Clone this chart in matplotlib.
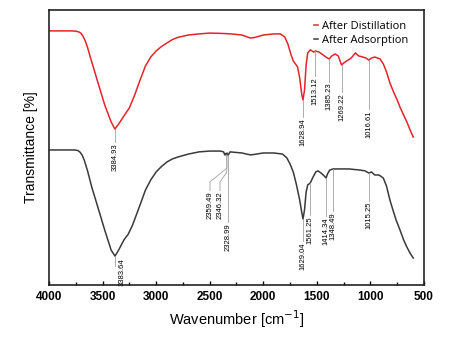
import matplotlib.pyplot as plt
import numpy as np
from matplotlib.ticker import MultipleLocator, NullLocator

# spectrum after distillation (red)
wn_dist = [4000, 3800, 3750, 3720, 3700, 3680, 3660, 3640, 3620, 3550, 3480, 3420, 3385,
           3350, 3300, 3250, 3200, 3150, 3100, 3050, 3000, 2950, 2900, 2850, 2800, 2700,
           2600, 2500, 2400, 2300, 2200, 2120, 2080, 2000, 1900, 1840, 1800, 1770, 1740,
           1720, 1700, 1680, 1660, 1640, 1629, 1615, 1600, 1585, 1560, 1530, 1513, 1480,
           1440, 1400, 1385, 1360, 1330, 1300, 1280, 1269, 1250, 1220, 1180, 1140, 1110,
           1070, 1040, 1017, 990, 960, 910, 880, 850, 818, 780, 750, 724, 690, 660, 630, 600]
t_dist = [92.4, 92.4, 92.3, 92.0, 91.5, 90.3, 88.6, 86.4, 83.6, 74.5, 65.5, 59.3, 56.7,
          58.5, 61.5, 64.4, 69.1, 74.5, 79.6, 82.9, 85.1, 86.7, 88.0, 89.2, 90.0, 90.9,
          91.3, 91.6, 91.5, 91.3, 90.9, 89.8, 90.0, 90.9, 91.3, 91.3, 90.2, 87.6, 83.6,
          81.5, 80.4, 79.3, 75.3, 69.1, 67.3, 70.9, 80.0, 84.4, 85.5, 84.7, 85.1, 84.7,
          83.6, 82.5, 82.2, 83.3, 84.0, 83.3, 81.1, 80.0, 80.7, 81.5, 82.5, 84.4, 83.3,
          82.9, 82.5, 81.8, 82.5, 82.9, 82.2, 80.4, 77.5, 73.5, 69.8, 67.3, 64.7, 61.8,
          59.3, 56.4, 53.8]

# spectrum after adsorption (black)
wn_ads = [4000, 3760, 3730, 3710, 3690, 3670, 3640, 3600, 3550, 3480, 3420, 3384, 3350,
          3300, 3260, 3220, 3150, 3100, 3050, 3000, 2950, 2900, 2850, 2800, 2700, 2600,
          2500, 2400, 2370, 2359, 2350, 2346, 2338, 2329, 2310, 2200, 2120, 2080, 2000,
          1900, 1820, 1780, 1750, 1720, 1690, 1660, 1640, 1629, 1615, 1600, 1585, 1561,
          1540, 1510, 1490, 1460, 1430, 1414, 1400, 1380, 1348, 1300, 1200, 1100, 1050,
          1015, 990, 960, 920, 880, 850, 818, 790, 760, 724, 690, 660, 630, 600]
t_ads = [49.1, 49.1, 48.9, 48.3, 47.2, 45.3, 41.5, 35.5, 29.1, 20.0, 12.7, 10.5, 12.7,
         16.4, 18.5, 21.8, 29.1, 34.5, 38.2, 41.1, 43.1, 44.7, 45.8, 46.5, 47.6, 48.4,
         48.7, 48.7, 48.4, 47.3, 47.8, 47.3, 48.0, 47.1, 48.4, 48.0, 47.3, 47.5, 48.0,
         48.0, 47.6, 46.2, 44.0, 41.1, 36.4, 30.9, 26.2, 24.0, 27.3, 33.8, 36.4, 37.1,
         38.9, 41.1, 41.5, 40.7, 39.6, 38.9, 40.4, 41.8, 42.2, 42.2, 42.2, 41.8, 41.5,
         40.7, 41.1, 40.0, 40.0, 38.9, 36.0, 30.9, 27.3, 23.6, 20.0, 16.4, 13.8, 11.6, 9.8]

# peak labels
peaks_dist = [3384.93, 1628.94, 1513.12, 1385.23, 1269.22, 1016.61]
peaks_ads = [3383.64, 2359.49, 2346.32, 2328.99, 1629.04, 1561.25, 1414.34, 1348.49, 1015.25]

# where each label text starts (top of the rotated text), axis units
text_top_dist = [51.6, 60.7, 75.6, 73.5, 69.8, 63.6]
text_top_ads = [9.8, 34.0, 34.0, 22.5, 15.6, 25.1, 24.7, 26.5, 30.2]
text_x_ads = [3313, 2497, 2404, 2329, 1629.04, 1561.25, 1414.34, 1348.49, 1015.25]

xticks = [4000, 3500, 3000, 2500, 2000, 1500, 1000, 500]

red = '#e5232b'
black = '#3a3a3a'
lead = '#a0a0a0'

plt.rcParams['font.family'] = ['Liberation Sans', 'DejaVu Sans']

fig = plt.figure(figsize=(4.51, 3.42), dpi=100)
ax = fig.add_axes([0.1086, 0.1667, 0.8315, 0.8041])

ax.plot(wn_dist, t_dist, color=red, lw=1.1, label='After Distillation')
ax.plot(wn_ads, t_ads, color=black, lw=1.1, label='After Adsorption')

for p, top in zip(peaks_dist, text_top_dist):
    yc = np.interp(p, wn_dist[::-1], t_dist[::-1])
    ax.plot([p, p], [yc, top + 0.3], color=lead, lw=0.6)
    ax.text(p, top, f'{p:.2f}', rotation=90, ha='center', va='top', fontsize=5.5)

for i, (p, top, xt) in enumerate(zip(peaks_ads, text_top_ads, text_x_ads)):
    yc = np.interp(p, wn_ads[::-1], t_ads[::-1])
    if i in (1, 2):
        # fanned leader lines for the CO2 doublet
        kink = 42.5 if i == 1 else 41.0
        ax.plot([2340, 2340, xt, xt], [yc, kink, 37.5, top + 0.3], color=lead, lw=0.6)
    elif i == 0:
        ax.plot([p, p], [yc, 7.0], color=lead, lw=0.6)
    else:
        ax.plot([p, p], [yc, top + 0.3], color=lead, lw=0.6)
    ax.text(xt, top, f'{p:.2f}', rotation=90, ha='center', va='top', fontsize=5.5)

ax.set_xlim(4000, 500)
ax.set_ylim(0, 100)
ax.set_xticks(xticks)
ax.set_xticklabels([str(t) for t in xticks], fontweight='bold', fontsize=8.5)
ax.xaxis.set_minor_locator(MultipleLocator(250))
ax.yaxis.set_major_locator(NullLocator())
ax.tick_params(axis='x', which='both', direction='in', top=False, pad=4)
ax.tick_params(axis='x', which='major', length=3, width=1)
ax.tick_params(axis='x', which='minor', length=2, width=1)
for s in ax.spines.values():
    s.set_linewidth(1.2)
    s.set_color('#222222')

ax.set_xlabel('Wavenumber [cm$^{-1}$]', fontsize=10.5, labelpad=4)
ax.set_ylabel('Transmittance [%]', fontsize=10, labelpad=8)

ax.legend(loc='upper right', bbox_to_anchor=(0.985, 0.995), frameon=False,
          handlelength=0.3, handletextpad=0.4, labelspacing=0.25,
          prop={'family': 'Open Sans', 'size': 8})

fig.savefig('out.png', dpi=100)
